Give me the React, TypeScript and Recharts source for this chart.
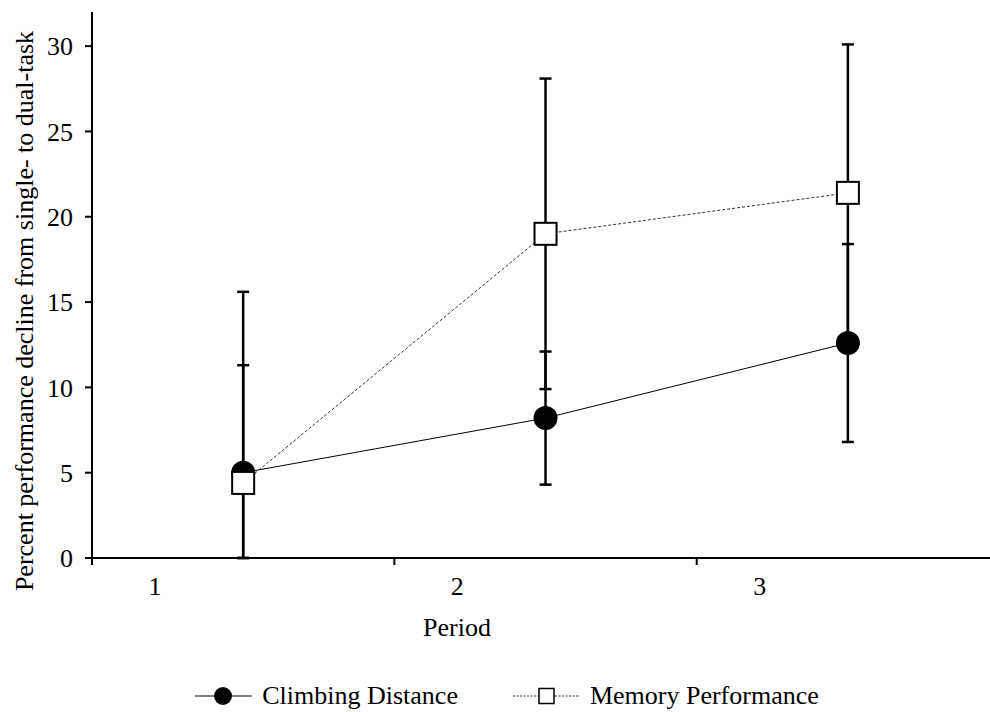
import {
  LineChart,
  Line,
  XAxis,
  YAxis,
  Legend,
  ErrorBar,
  Label,
} from "recharts";

const periods = [1, 2, 3];
const periodLabels = ["1", "2", "3"];
const climbing = [5.0, 8.2, 12.6];
const climbingErr = [6.3, 3.9, 5.8];
const memory = [4.4, 19.0, 21.4];
const memoryErr = [11.2, 9.1, 8.7];
const yTicks = [0, 5, 10, 15, 20, 25, 30];
// boundaries between the period bands, where the tick marks sit
const xTicks = [0.5, 1.5, 2.5];

const data = periods.map((p, i) => ({
  period: p,
  climbing: climbing[i],
  climbingErr: climbingErr[i],
  memory: memory[i],
  memoryErr: memoryErr[i],
}));

const FONT = "'Liberation Serif', 'Times New Roman', serif";

// the original plot cuts the bars off at the x axis, so the lower arm stops at 0
const clippedErr = (valueKey: string, errKey: string) => (d: any) => [
  Math.min(d[errKey], d[valueKey]),
  d[errKey],
];

const PeriodTick = (props: any) => {
  const { x, y, index } = props;
  return (
    <text
      x={x + 63}
      y={y}
      dy="0.71em"
      textAnchor="middle"
      fontFamily={FONT}
      fontSize={26}
      fill="#000"
    >
      {periodLabels[index]}
    </text>
  );
};

const CircleDot = (props: any) => {
  const { cx, cy, index } = props;
  return <circle key={`c-${index}`} cx={cx} cy={cy} r={12} fill="#000" />;
};

const SquareDot = (props: any) => {
  const { cx, cy, index } = props;
  return (
    <rect
      key={`s-${index}`}
      x={cx - 11}
      y={cy - 11}
      width={22}
      height={22}
      fill="#fff"
      stroke="#000"
      strokeWidth={2}
    />
  );
};

const YLabel = (props: any) => {
  const vb = props.viewBox;
  const x = vb.x + 24;
  const y = vb.y + vb.height / 2 + 26;
  return (
    <text
      x={x}
      y={y}
      transform={`rotate(-90 ${x} ${y})`}
      textAnchor="middle"
      dominantBaseline="central"
      fontFamily={FONT}
      fontSize={26}
      fill="#000"
    >
      Percent performance decline from single- to dual-task
    </text>
  );
};

const ChartLegend = () => (
  <div
    style={{
      height: 32,
      display: "flex",
      alignItems: "center",
      justifyContent: "center",
      paddingLeft: 24,
      fontFamily: FONT,
      fontSize: 26,
      color: "#000",
    }}
  >
    <svg width={57} height={24} style={{ marginRight: 10 }}>
      <line x1={0} y1={12} x2={57} y2={12} stroke="#000" strokeWidth={1} />
      <circle cx={28} cy={12} r={9} fill="#000" />
    </svg>
    <span>Climbing Distance</span>
    <svg width={67} height={24} style={{ marginLeft: 55, marginRight: 10 }}>
      <line
        x1={0}
        y1={12}
        x2={67}
        y2={12}
        stroke="#333"
        strokeWidth={1}
        strokeDasharray="2 1.5"
      />
      <rect x={26} y={4.5} width={15} height={15} fill="#fff" stroke="#000" strokeWidth={1.5} />
    </svg>
    <span>Memory Performance</span>
  </div>
);

export default function App() {
  return (
    <div style={{ position: "absolute", left: 0, top: 0 }}>
      <LineChart
        width={990}
        height={712}
        data={data}
        margin={{ top: 12, right: 0, bottom: 0, left: 0 }}
      >
        <XAxis
          type="number"
          dataKey="period"
          domain={[0.5, 3.47]}
          ticks={xTicks}
          tick={<PeriodTick />}
          tickSize={7}
          tickMargin={12}
          height={122}
          stroke="#000"
          strokeWidth={2}
          interval={0}
        >
          <Label
            value="Period"
            position="insideTop"
            offset={60}
            dx={-84}
            fontFamily={FONT}
            fontSize={26}
            fill="#000"
          />
        </XAxis>
        <YAxis
          type="number"
          domain={[0, 32]}
          ticks={yTicks}
          allowDataOverflow
          width={92}
          tickSize={7}
          tickMargin={12}
          stroke="#000"
          strokeWidth={2}
          tick={{ fontFamily: FONT, fontSize: 26, fill: "#000" }}
        >
          <Label content={<YLabel />} />
        </YAxis>
        <Legend verticalAlign="bottom" content={<ChartLegend />} />

        {/* memory curve drawn first so it sits behind the circles */}
        <Line
          dataKey="memory"
          stroke="#333"
          strokeWidth={1}
          strokeDasharray="3 2"
          dot={false}
          legendType="none"
          isAnimationActive={false}
        />
        {/* memory error bars only */}
        <Line
          dataKey="memory"
          stroke="none"
          dot={false}
          legendType="none"
          isAnimationActive={false}
        >
          <ErrorBar
            dataKey={clippedErr("memory", "memoryErr")}
            direction="y"
            width={6}
            stroke="#000"
            strokeWidth={2.5}
            isAnimationActive={false}
          />
        </Line>
        <Line
          name="Climbing Distance"
          dataKey="climbing"
          stroke="#000"
          strokeWidth={1}
          dot={<CircleDot />}
          isAnimationActive={false}
        >
          <ErrorBar
            dataKey={clippedErr("climbing", "climbingErr")}
            direction="y"
            width={6}
            stroke="#000"
            strokeWidth={2.5}
            isAnimationActive={false}
          />
        </Line>
        {/* squares on top */}
        <Line
          name="Memory Performance"
          dataKey="memory"
          stroke="none"
          dot={<SquareDot />}
          isAnimationActive={false}
        />
      </LineChart>
    </div>
  );
}
